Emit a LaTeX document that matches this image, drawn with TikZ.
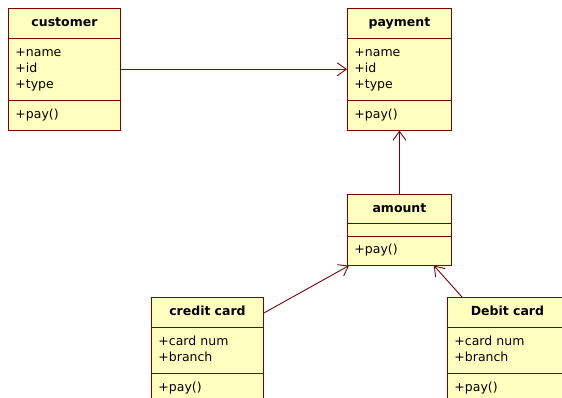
\documentclass[tikz,border=0pt]{standalone}
\usepackage{fontspec}
\setmainfont{DejaVu Sans}
\usetikzlibrary{arrows.meta,shapes.multipart,calc}

\definecolor{umlline}{RGB}{128,0,0}
\definecolor{umlfill}{RGB}{255,255,192}
\newcommand{\cname}[1]{\makebox[\linewidth]{\strut\bfseries #1}}

\begin{document}
\begin{tikzpicture}[x=1pt,y=-1pt,>={Straight Barb[length=9pt,width=13pt]},
  class/.style={rectangle split,rectangle split parts=3,draw=umlline,fill=umlfill,
    line width=0.9pt,inner xsep=7pt,inner ysep=6.5pt,anchor=north west,align=left,
    font=\fontsize{12.5}{16}\selectfont},
  assoc/.style={->,draw=umlline,line width=0.9pt}]

  \useasboundingbox (0,0) rectangle (562,398);
  \clip (0,0) rectangle (562,398);

  % classes
  \node[class,text width=98pt] (cust) at (8,8)
    {\cname{customer}\nodepart{two}\strut+name\\+id\\+type\strut\nodepart{three}\strut+pay()};
  \node[class,text width=90pt] (pay) at (347,8)
    {\cname{payment}\nodepart{two}\strut+name\\+id\\+type\strut\nodepart{three}\strut+pay()};
  \node[class,text width=90pt,inner ysep=6pt] (amt) at (347,194)
    {\cname{amount}\nodepart{two}\nodepart{three}\strut+pay()};
  \node[class,text width=98pt] (credit) at (151,297)
    {\cname{credit card}\nodepart{two}\strut+card num\\+branch\strut\nodepart{three}\strut+pay()};
  \node[class,text width=106pt] (debit) at (447,297)
    {\cname{Debit card}\nodepart{two}\strut+card num\\+branch\strut\nodepart{three}\strut+pay()};

  % associations
  \draw[assoc] (cust.east) -- (pay.west);
  \draw[assoc] (amt.north) -- (pay.south);
  \draw[assoc] ([yshift=-16pt]credit.north east) -- ([xshift=2pt]amt.south west);
  \draw[assoc] ([xshift=15pt]debit.north west) -- ([xshift=-18pt]amt.south east);

\end{tikzpicture}
\end{document}
